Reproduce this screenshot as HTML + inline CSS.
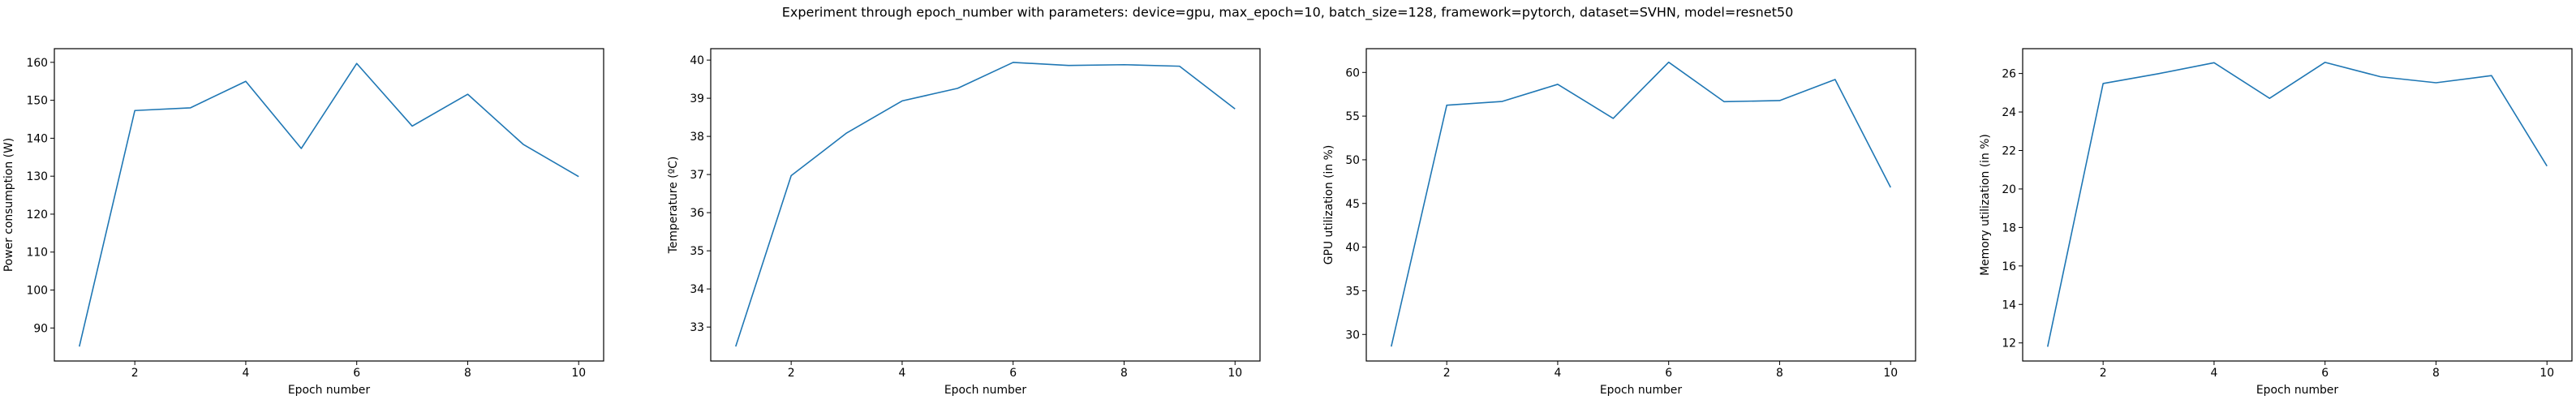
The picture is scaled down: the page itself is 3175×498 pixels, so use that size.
<!DOCTYPE html>
<html><head><meta charset="utf-8">
<style>
html,body{margin:0;padding:0;background:#fff;}
svg{display:block;font-family:"DejaVu Sans","Liberation Sans",sans-serif;}
</style></head>
<body>
<svg id="fig" width="3175" height="498" viewBox="0 0 3175 498" xmlns="http://www.w3.org/2000/svg">
<rect width="3175" height="498" fill="#fff"/>
<text x="1587" y="16" text-anchor="middle" font-size="16" dominant-baseline="middle">Experiment through epoch_number with parameters: device=gpu, max_epoch=10, batch_size=128, framework=pytorch, dataset=SVHN, model=resnet50</text>
</svg>
<script>
const epochs = [1,2,3,4,5,6,7,8,9,10];
const xTicks = [2,4,6,8,10];
const powerValues = [85.1,147.3,148.0,155.0,137.3,159.7,143.2,151.6,138.4,129.9];
const powerTicks = [90,100,110,120,130,140,150,160];
const tempValues = [32.49,36.97,38.09,38.93,39.26,39.94,39.86,39.88,39.84,38.72];
const tempTicks = [33,34,35,36,37,38,39,40];
const gpuValues = [28.61,56.25,56.68,58.64,54.74,61.17,56.65,56.78,59.19,46.84];
const gpuTicks = [30,35,40,45,50,55,60];
const memValues = [11.80,25.48,25.99,26.56,24.71,26.58,25.83,25.52,25.89,21.19];
const memTicks = [12,14,16,18,20,22,24,26];

const NS = "http://www.w3.org/2000/svg";
const svg = document.getElementById('fig');
function mk(tag, attrs, parent){
  const e = document.createElementNS(NS, tag);
  for (const k in attrs) e.setAttribute(k, attrs[k]);
  (parent||svg).appendChild(e);
  return e;
}
const TOP = 60, BOT = 445, W = 677;
const panels = [
  {left:67, vals:powerValues, ticks:powerTicks, ymin:81.3, ymax:163.6, label:"Power consumption (W)", off:52, key:"power"},
  {left:876, vals:tempValues, ticks:tempTicks, ymin:32.11, ymax:40.30, label:"Temperature (ºC)", off:42, key:"temperature"},
  {left:1684, vals:gpuValues, ticks:gpuTicks, ymin:26.96, ymax:62.72, label:"GPU utilization (in %)", off:42, key:"gpu"},
  {left:2493, vals:memValues, ticks:memTicks, ymin:11.06, ymax:27.29, label:"Memory utilization (in %)", off:42, key:"memory"}
];
panels.forEach(p => {
  const g = mk('g', {});
  
  
  const xs = v => p.left + (v - 0.55) / (10.45 - 0.55) * W;
  const ys = v => BOT - (v - p.ymin) / (p.ymax - p.ymin) * (BOT - TOP);
  xTicks.forEach(t => {
    const x = xs(t);
    mk('line', {x1:x, x2:x, y1:BOT, y2:BOT+5, stroke:'#000', 'stroke-width':1}, g);
    const tl = mk('text', {x:x, y:BOT+19, 'text-anchor':'middle', 'font-size':13.9}, g);
    tl.textContent = t;
    
    
  });
  p.ticks.forEach(t => {
    const y = ys(t);
    mk('line', {x1:p.left-5, x2:p.left, y1:y, y2:y, stroke:'#000', 'stroke-width':1}, g);
    const tl = mk('text', {x:p.left-8, y:y+5, 'text-anchor':'end', 'font-size':13.9}, g);
    tl.textContent = t;
    
    
  });
  const d = p.vals.map((v,i) => (i?'L':'M') + xs(epochs[i]).toFixed(2) + ',' + ys(v).toFixed(2)).join(' ');
  const path = mk('path', {d:d, fill:'none', stroke:'#1f77b4', 'stroke-width':1.6, 'stroke-linejoin':'round'}, g);
  
  
  const frame = mk('rect', {x:p.left, y:TOP, width:W, height:BOT-TOP, fill:'none', stroke:'#000', 'stroke-width':1.2}, g);
  
  
  const xl = mk('text', {x:p.left+W/2, y:485, 'text-anchor':'middle', 'font-size':13.9}, g);
  xl.textContent = 'Epoch number';
  
  
  const cx = p.left - p.off, cy = (TOP+BOT)/2;
  const yl = mk('text', {x:cx, y:cy, 'text-anchor':'middle', 'font-size':13.9, transform:'rotate(-90 '+cx+' '+cy+')'}, g);
  yl.textContent = p.label;
  
  
});
</script>
</body></html>
